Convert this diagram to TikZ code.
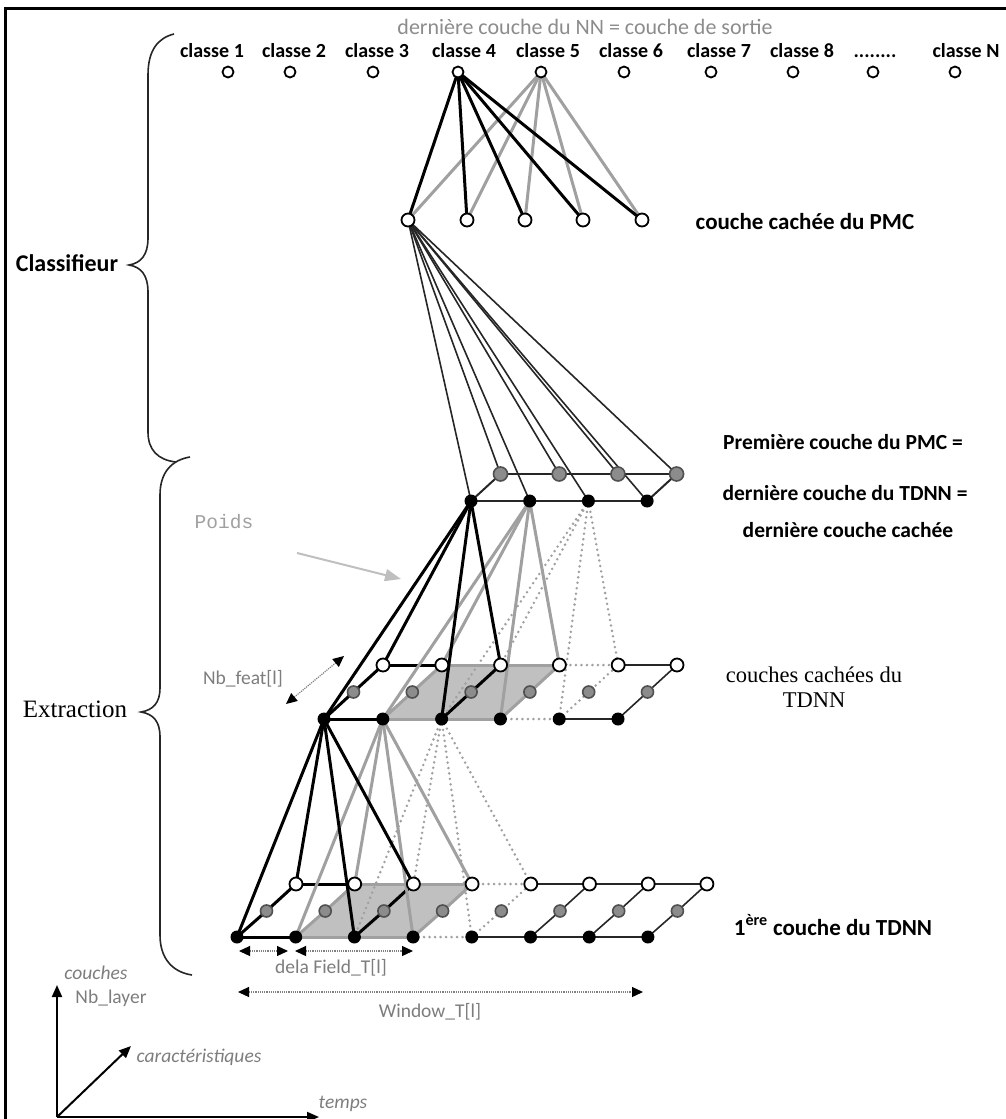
\documentclass[tikz,border=0pt]{standalone}
\usepackage{fontspec}
\setmainfont{Carlito}
\newfontfamily\seriffont{Liberation Serif}
\newfontfamily\monofont{Liberation Mono}
\usetikzlibrary{backgrounds,arrows.meta}
\definecolor{lblc}{RGB}{125,125,125}
\definecolor{titc}{RGB}{140,140,140}
\definecolor{gcol}{RGB}{160,160,160}
\definecolor{shadec}{RGB}{192,192,192}
\definecolor{gnode}{RGB}{140,140,140}
\definecolor{gring}{RGB}{80,80,80}
\begin{document}
\begin{tikzpicture}[x=1pt,y=-1pt,
  outc/.style={circle,draw=black,line width=1.8pt,fill=white,minimum size=11pt,inner sep=0pt},
  hidc/.style={circle,draw=black,line width=1.8pt,fill=white,minimum size=13pt,inner sep=0pt},
  blk/.style={circle,fill=black,minimum size=13pt,inner sep=0pt},
  wht/.style={circle,draw=black,line width=1.8pt,fill=white,minimum size=13pt,inner sep=0pt},
  gry/.style={circle,draw=gring,line width=1.6pt,fill=gnode,minimum size=12pt,inner sep=0pt},
  clab/.style={font=\fontsize{20}{23}\selectfont\bfseries,inner sep=0pt,anchor=base},
  rlab/.style={font=\fontsize{21.5}{25}\selectfont\bfseries,inner sep=0pt,anchor=base},
  slab/.style={font=\fontsize{22.5}{26}\selectfont\seriffont,inner sep=0pt,anchor=base},
  glab/.style={font=\fontsize{19.5}{23}\selectfont,text=lblc,inner sep=0pt,anchor=base},
  ilab/.style={font=\fontsize{19.5}{23}\selectfont\itshape,text=lblc,inner sep=0pt,anchor=base},
  conK/.style={line width=3pt,black},
  conG/.style={line width=3pt,gcol},
  conD/.style={line width=2.8pt,gcol,dash pattern=on 0pt off 5.5pt,line cap=round},
  conT/.style={line width=1.6pt,black!85},
  dimarr/.style={line width=1.2pt,gray,densely dotted,{Triangle[length=11pt,width=10pt,color=black]}-{Triangle[length=11pt,width=10pt,color=black]}},
  axarr/.style={line width=2pt,black,-{Triangle[length=12pt,width=10pt]}},
  brace/.style={line width=1.6pt,black!85}
]
\useasboundingbox (0,0) rectangle (1006,1119);
% frame
\draw[line width=3pt] (5,1119) -- (5,8) -- (1006,8);

% ---------- texts ----------
\node[font=\fontsize{22}{26}\selectfont,text=titc,inner sep=0pt,anchor=base] (title) at (585,34) {dernière couche du NN = couche de sortie};
\node[clab] (l1) at (212,57) {classe 1};
\node[clab] (l2) at (294,57) {classe 2};
\node[clab] (l3) at (377,57) {classe 3};
\node[clab] (l4) at (464,57) {classe 4};
\node[clab] (l5) at (548,57) {classe 5};
\node[clab] (l6) at (631,57) {classe 6};
\node[clab] (l7) at (719,57) {classe 7};
\node[clab] (l8) at (802,57) {classe 8};
\node[clab] (ldots) at (875,57) {........};
\node[clab] (lN) at (966,57) {classe N};

\node[rlab,font=\fontsize{23}{27}\selectfont\bfseries] (tpmc) at (805,229) {couche cachée du PMC};
\node[rlab] (tprem) at (843,449) {Première couche du PMC =};
\node[rlab] (tder1) at (845,500) {dernière couche du TDNN =};
\node[rlab] (tder2) at (848,537) {dernière couche cachée};
\node[slab] (tcc1) at (814,682) {couches cachées du};
\node[slab] (tcc2) at (814,707) {TDNN};
\node[rlab,font=\fontsize{23}{27}\selectfont\bfseries] (t1ere) at (833,935) {1\textsuperscript{ère} couche du TDNN};
\node[font=\fontsize{24}{29}\selectfont\bfseries,inner sep=0pt] (tclass) at (67,263) {Classifieur};
\node[font=\fontsize{25}{30}\selectfont\seriffont,inner sep=0pt] (textr) at (75,709) {Extraction};

\node[font=\fontsize{19.5}{23}\selectfont\monofont,text=gcol,inner sep=0pt] (tpoids) at (224,522) {Poids};
\node[glab] (tnbf) at (243,684) {Nb\_feat[l]};
\node[glab] (tdela) at (331,973) {dela Field\_T[l]};
\node[glab] (twin) at (430,1017) {Window\_T[l]};
\node[ilab] (tcouches) at (96,979) {couches};
\node[glab] (tnbl) at (111,1003) {Nb\_layer};
\node[ilab] (tcarac) at (199,1062) {caractéristiques};
\node[ilab] (ttemps) at (343,1108) {temps};

% ---------- nodes ----------
\foreach \x [count=\i] in {228,290,373,458,541,624,711,793,873,955}
  \node[outc] (o\i) at (\x,72) {};
\foreach \x [count=\i] in {408,467,525,583,642}
  \node[hidc] (h\i) at (\x,220) {};
\foreach \k in {0,...,3}{
  \node[blk] (tb\k) at ({471+58.7*\k},501) {};
  \node[gry,minimum size=14pt] (tg\k) at ({500.5+58.7*\k},474) {};
}
\foreach \k in {0,...,5}{
  \node[blk] (mb\k) at ({324+58.8*\k},719) {};
  \node[gry] (mg\k) at ({353.5+58.8*\k},692) {};
  \node[wht] (mw\k) at ({383+58.8*\k},665) {};
}
\foreach \k in {0,...,7}{
  \node[blk] (bb\k) at ({237+58.7*\k},937) {};
  \node[gry] (bg\k) at ({266.5+58.7*\k},911) {};
  \node[wht] (bw\k) at ({296+58.7*\k},884) {};
}

% ---------- connectors (behind nodes) ----------
\begin{scope}[on background layer]
  \fill[shadec] (mb1.center) -- (mb3.center) -- (mw3.center) -- (mw1.center) -- cycle;
  \fill[shadec] (bb1.center) -- (bb3.center) -- (bw3.center) -- (bw1.center) -- cycle;

  % output -> hidden PMC
  \foreach \i in {1,...,5} \draw[conG] (o5.center) -- (h\i.center);
  \foreach \i in {1,...,5} \draw[conK] (o4.center) -- (h\i.center);
  % hidden -> first PMC layer
  \foreach \k in {0,...,3}{
    \draw[conT] (h1.center) -- (tb\k.center);
    \draw[conT] (h1.center) -- (tg\k.center);
  }
  % top TDNN layer frame
  \draw[line width=2pt,black!85] (tg0.center) -- (tg3.center);
  \draw[line width=2pt,black!85] (tb0.center) -- (tb3.center);
  \draw[line width=2pt,black!85] (tb0.center) -- (tg0.center);
  \draw[line width=2pt,black!85] (tb3.center) -- (tg3.center);

  % middle layer grid
  \draw[conG] (mb1.center) -- (mb3.center);
  \draw[conG] (mw1.center) -- (mw3.center);
  \draw[conG] (mb1.center) -- (mg1.center) -- (mw1.center);
  \draw[conG] (mb3.center) -- (mg3.center) -- (mw3.center);
  \draw[conD] (mb3.center) -- (mb4.center);
  \draw[conD] (mw3.center) -- (mw4.center);
  \draw[conD] (mb4.center) -- (mg4.center) -- (mw4.center);
  \draw[conT] (mb4.center) -- (mb5.center);
  \draw[conT] (mw4.center) -- (mw5.center);
  \draw[conT] (mb5.center) -- (mg5.center) -- (mw5.center);
  \draw[conK] (mb0.center) -- (mb1.center);
  \draw[conK] (mw0.center) -- (mw1.center);
  \draw[conK] (mb0.center) -- (mg0.center) -- (mw0.center);
  \draw[conK] (mb2.center) -- (mg2.center) -- (mw2.center);

  % bottom layer grid
  \draw[conG] (bb1.center) -- (bb3.center);
  \draw[conG] (bw1.center) -- (bw3.center);
  \draw[conG] (bb1.center) -- (bg1.center) -- (bw1.center);
  \draw[conG] (bb3.center) -- (bg3.center) -- (bw3.center);
  \draw[conD] (bb3.center) -- (bb4.center);
  \draw[conD] (bw3.center) -- (bw4.center);
  \draw[conD] (bb4.center) -- (bg4.center) -- (bw4.center);
  \draw[conT] (bb4.center) -- (bb7.center);
  \draw[conT] (bw4.center) -- (bw7.center);
  \foreach \k in {5,6,7} \draw[conT] (bb\k.center) -- (bg\k.center) -- (bw\k.center);
  \draw[conK] (bb0.center) -- (bb1.center);
  \draw[conK] (bw0.center) -- (bw1.center);
  \draw[conK] (bb0.center) -- (bg0.center) -- (bw0.center);
  \draw[conK] (bb2.center) -- (bg2.center) -- (bw2.center);

  % top -> middle weights
  \foreach \n in {mb2,mw2,mb4,mw4} \draw[conD] (tb2.center) -- (\n.center);
  \foreach \n in {mb1,mw1,mb3,mw3} \draw[conG] (tb1.center) -- (\n.center);
  \foreach \n in {mb0,mw0,mb2,mw2} \draw[conK] (tb0.center) -- (\n.center);
  % middle -> bottom weights
  \foreach \n in {bb2,bw2,bb4,bw4} \draw[conD] (mb2.center) -- (\n.center);
  \foreach \n in {bb1,bw1,bb3,bw3} \draw[conG] (mb1.center) -- (\n.center);
  \foreach \n in {bb0,bw0,bb2,bw2} \draw[conK] (mb0.center) -- (\n.center);
\end{scope}

% ---------- braces ----------
\draw[brace] (174,34) .. controls (158,38) and (148,50) .. (148,75) -- (148,238)
  .. controls (148,255) and (141,263) .. (129,265)
  .. controls (141,267) and (148,275) .. (148,292) -- (148,432)
  .. controls (148,450) and (158,460) .. (176,462);
\draw[brace] (190,457) .. controls (172,460) and (160,472) .. (160,495) -- (160,688)
  .. controls (160,703) and (153,710) .. (141,712)
  .. controls (153,714) and (160,721) .. (160,737) -- (160,935)
  .. controls (160,958) and (172,972) .. (192,975);

% ---------- arrows ----------
\coordinate (pa) at (297,553);
\coordinate (pb) at (401,579);
\draw[line width=2pt,black!25,-{Triangle[length=16pt,width=12pt]}] (pa) -- (pb);
\coordinate (nfa) at (286,704);
\coordinate (nfb) at (344,656);
\draw[dimarr] (nfa) -- (nfb);
\coordinate (d0) at (239,951);
\coordinate (d1) at (288,951);
\coordinate (d2) at (295,951);
\coordinate (d3) at (413,951);
\draw[dimarr] (d0) -- (d1);
\draw[dimarr] (d2) -- (d3);
\coordinate (w0) at (238,992);
\coordinate (w1) at (643,992);
\draw[dimarr] (w0) -- (w1);

% axes
\coordinate (ax0) at (57,1117);
\coordinate (axv) at (57,985);
\coordinate (axd) at (131,1046);
\coordinate (axh) at (319,1117);
\draw[axarr] (ax0) -- (axv);
\draw[axarr] (ax0) -- (axd);
\draw[axarr] (ax0) -- (axh);
\end{tikzpicture}
\end{document}
